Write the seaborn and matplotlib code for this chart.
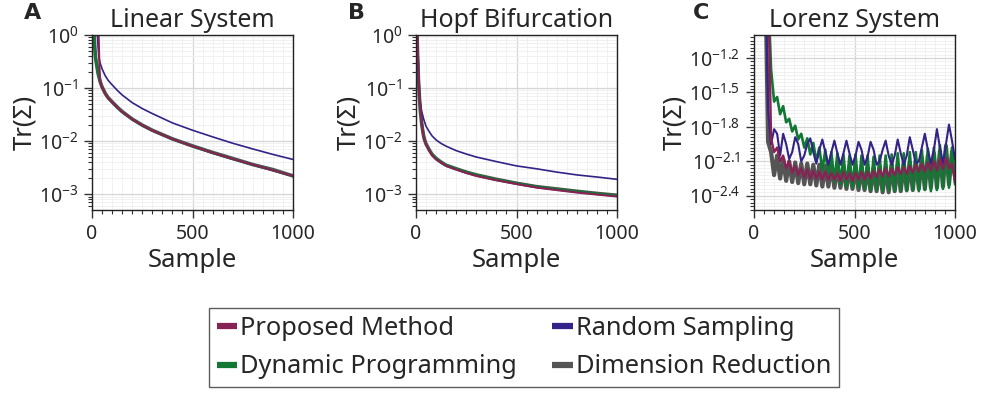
import numpy as np
import pandas as pd
import matplotlib
matplotlib.use("Agg")
import matplotlib.pyplot as plt
import seaborn as sns
from matplotlib.ticker import FixedLocator, FixedFormatter, MultipleLocator, LogLocator, NullFormatter
from matplotlib.lines import Line2D

# --- data ---
# panels A/B: sample index grid and Tr(Sigma) values
x_ab = [4, 8, 12, 17, 21, 25, 29, 33, 37, 41, 50, 66, 80, 100, 125, 150,
        200, 250, 300, 400, 500, 600, 700, 800, 900, 1000]

lin_dimred = [3.0, 1.3, 0.75, 0.40, 0.31, 0.25, 0.20, 0.17, 0.15, 0.13, 0.105, 0.079, 0.066,
              0.055, 0.044, 0.036, 0.026, 0.020, 0.016, 0.011, 0.0081, 0.0061, 0.0047,
              0.0036, 0.0029, 0.0022]
lin_dynprog = [2.8, 1.25, 0.72, 0.39, 0.30, 0.245, 0.198, 0.168, 0.145, 0.128, 0.104, 0.078,
               0.065, 0.054, 0.0435, 0.0355, 0.0258, 0.0198, 0.0158, 0.0109, 0.0080, 0.0060,
               0.0046, 0.0036, 0.0028, 0.0022]
lin_proposed = [8.0, 6.0, 4.0, 3.2, 2.8, 2.5, 2.0, 1.0, 0.25, 0.132, 0.104, 0.078, 0.065,
                0.054, 0.0435, 0.0355, 0.0258, 0.0198, 0.0158, 0.0109, 0.0080, 0.0060,
                0.0046, 0.0036, 0.0028, 0.0022]
lin_random = [12.0, 8.0, 5.0, 3.0, 1.9, 1.2, 0.7, 0.42, 0.34, 0.29, 0.23, 0.17, 0.14, 0.115,
              0.091, 0.074, 0.053, 0.041, 0.033, 0.022, 0.016, 0.012, 0.0091, 0.0071,
              0.0056, 0.0045]

hopf_dimred = [1.5, 0.4, 0.15, 0.065, 0.040, 0.028, 0.020, 0.016, 0.013, 0.011, 0.0088,
               0.0068, 0.0056, 0.0047, 0.0040, 0.0035, 0.0030, 0.0026, 0.0023, 0.0019,
               0.0016, 0.00138, 0.00125, 0.00113, 0.00103, 0.00095]
hopf_dynprog = [1.8, 0.5, 0.17, 0.075, 0.045, 0.030, 0.022, 0.017, 0.0135, 0.0113, 0.0089,
                0.0068, 0.0056, 0.0047, 0.0040, 0.0035, 0.0030, 0.0026, 0.0023, 0.00188,
                0.0016, 0.00138, 0.00124, 0.00112, 0.00102, 0.00094]
hopf_proposed = [3.0, 0.7, 0.22, 0.08, 0.047, 0.031, 0.022, 0.0165, 0.0132, 0.0110, 0.0086,
                 0.0066, 0.0054, 0.0045, 0.0039, 0.0034, 0.0029, 0.0025, 0.0022, 0.00182,
                 0.00155, 0.00133, 0.00119, 0.00107, 0.00098, 0.00090]
hopf_random = [1.8, 0.5, 0.16, 0.075, 0.052, 0.042, 0.035, 0.031, 0.027, 0.024, 0.019, 0.015,
               0.0125, 0.0105, 0.0090, 0.0080, 0.0066, 0.0057, 0.0050, 0.0041, 0.0034,
               0.0030, 0.0026, 0.0023, 0.0021, 0.0019]

# panel C: samples every 15 from 55 to 1000, values given as log10 Tr(Sigma)
x_lorenz = np.arange(55, 1001, 15)

lor_log_dimred = [
    -0.30, -1.93, -2.02, -2.22, -2.05, -2.25, -2.08, -2.27,
    -2.10, -2.28, -2.11, -2.29, -2.12, -2.30, -2.12, -2.30,
    -2.13, -2.31, -2.13, -2.32, -2.14, -2.32, -2.14, -2.33,
    -2.14, -2.33, -2.15, -2.34, -2.15, -2.34, -2.16, -2.35,
    -2.16, -2.35, -2.16, -2.36, -2.16, -2.36, -2.15, -2.37,
    -2.15, -2.37, -2.14, -2.36, -2.13, -2.36, -2.12, -2.35,
    -2.11, -2.35, -2.09, -2.34, -2.07, -2.34, -2.05, -2.33,
    -2.03, -2.33, -2.01, -2.32, -1.97, -2.30, -2.02, -2.22]
lor_log_dynprog = [
    -0.30, -0.60, -1.30, -1.58, -1.54, -1.69, -1.62, -1.76,
    -1.73, -1.84, -1.79, -1.91, -1.86, -1.98, -1.90, -2.04,
    -1.94, -2.10, -1.98, -2.18, -2.00, -2.24, -2.02, -2.28,
    -2.03, -2.30, -2.04, -2.32, -2.05, -2.33, -2.04, -2.33,
    -2.05, -2.34, -2.05, -2.35, -2.06, -2.35, -2.05, -2.36,
    -2.05, -2.35, -2.04, -2.36, -2.03, -2.35, -2.03, -2.36,
    -2.02, -2.35, -2.02, -2.36, -2.00, -2.35, -1.99, -2.36,
    -1.98, -2.35, -1.96, -2.34, -1.95, -2.33, -1.98, -2.30]
lor_log_random = [
    -0.30, -1.65, -1.95, -1.82, -1.86, -2.05, -1.86, -1.95,
    -2.08, -2.02, -1.89, -1.95, -2.10, -2.05, -1.95, -1.90,
    -2.02, -2.12, -2.00, -1.91, -2.02, -2.13, -2.02, -1.92,
    -2.03, -2.13, -2.03, -1.92, -2.03, -2.13, -2.05, -1.93,
    -2.00, -2.13, -2.06, -1.93, -2.00, -2.13, -2.10, -2.00,
    -1.92, -2.05, -2.13, -2.05, -1.91, -2.03, -2.13, -2.05,
    -1.89, -2.00, -2.12, -2.10, -1.98, -1.86, -2.00, -2.12,
    -2.00, -1.82, -1.98, -2.12, -1.95, -1.78, -1.92, -2.08]
lor_log_proposed = [
    0.20, -0.50, -1.90, -2.02, -1.98, -2.10, -2.05, -2.16,
    -2.10, -2.20, -2.14, -2.22, -2.16, -2.24, -2.17, -2.25,
    -2.18, -2.25, -2.19, -2.26, -2.19, -2.26, -2.20, -2.26,
    -2.20, -2.27, -2.19, -2.26, -2.20, -2.27, -2.20, -2.26,
    -2.19, -2.26, -2.19, -2.25, -2.18, -2.24, -2.17, -2.23,
    -2.16, -2.23, -2.16, -2.22, -2.15, -2.21, -2.15, -2.21,
    -2.14, -2.20, -2.13, -2.19, -2.12, -2.19, -2.11, -2.18,
    -2.10, -2.18, -2.08, -2.17, -2.07, -2.16, -2.12, -2.28]

# draw order: bottom -> top
methods = ["Dimension Reduction", "Dynamic Programming", "Random Sampling", "Proposed Method"]
colors = {"Proposed Method": "#882255", "Random Sampling": "#332288",
          "Dynamic Programming": "#117733", "Dimension Reduction": "#555555"}
lw_ab = {"Dimension Reduction": 2.6, "Dynamic Programming": 1.8,
         "Random Sampling": 1.2, "Proposed Method": 1.5}
lw_c = {"Dimension Reduction": 3.0, "Dynamic Programming": 1.9,
        "Random Sampling": 1.5, "Proposed Method": 1.7}

panels = [
    ("Linear System", "A", x_ab, {"Dimension Reduction": lin_dimred, "Dynamic Programming": lin_dynprog,
                                  "Random Sampling": lin_random, "Proposed Method": lin_proposed}),
    ("Hopf Bifurcation", "B", x_ab, {"Dimension Reduction": hopf_dimred, "Dynamic Programming": hopf_dynprog,
                                     "Random Sampling": hopf_random, "Proposed Method": hopf_proposed}),
    ("Lorenz System", "C", x_lorenz, {"Dimension Reduction": 10 ** np.array(lor_log_dimred),
                                      "Dynamic Programming": 10 ** np.array(lor_log_dynprog),
                                      "Random Sampling": 10 ** np.array(lor_log_random),
                                      "Proposed Method": 10 ** np.array(lor_log_proposed)}),
]

sns.set_style("white")
plt.rcParams['font.family'] = ['Noto Sans', 'DejaVu Sans']
plt.rcParams['mathtext.fontset'] = 'custom'
plt.rcParams['mathtext.rm'] = 'Noto Sans'
plt.rcParams['mathtext.it'] = 'Noto Sans:italic'
plt.rcParams['mathtext.bf'] = 'Noto Sans:bold'

fig = plt.figure(figsize=(9.82, 3.93), dpi=100)
lefts = [92, 416, 754]
letter_x = [33, 357, 701]
W, H = 982, 393

for i, (title, letter, xs, series) in enumerate(panels):
    ax = fig.add_axes([lefts[i] / W, 1 - 210 / H, 201 / W, 175 / H])
    lws = lw_c if letter == "C" else lw_ab
    for m in methods:
        df = pd.DataFrame({"Sample": xs, "Tr": series[m]})
        sns.lineplot(data=df, x="Sample", y="Tr", color=colors[m], lw=lws[m],
                     ax=ax, legend=False, solid_joinstyle="round")
    ax.set_yscale("log")
    ax.set_xlim(0, 1000)
    ax.xaxis.set_major_locator(FixedLocator([0, 500, 1000]))
    ax.xaxis.set_minor_locator(MultipleLocator(50))
    if letter == "C":
        ax.set_ylim(10 ** -2.524, 10 ** -1.0)
        exps = ["-2.4", "-2.1", "-1.8", "-1.5", "-1.2"]
        ax.yaxis.set_major_locator(FixedLocator([10 ** float(e) for e in exps]))
        ax.yaxis.set_major_formatter(FixedFormatter([r"$10^{%s}$" % e for e in exps]))
        ax.yaxis.set_minor_locator(FixedLocator(10 ** np.arange(-2.55, -0.97, 0.03)))
    else:
        ax.set_ylim(10 ** -3.3, 1.0)
        ax.yaxis.set_major_locator(FixedLocator([1e-3, 1e-2, 1e-1, 1.0]))
        ax.yaxis.set_major_formatter(FixedFormatter([r"$10^{-3}$", r"$10^{-2}$", r"$10^{-1}$", r"$10^{0}$"]))
        ax.yaxis.set_minor_locator(LogLocator(base=10, subs=np.arange(2, 10), numticks=20))
    ax.yaxis.set_minor_formatter(NullFormatter())

    ax.set_axisbelow(True)
    ax.grid(which="major", color="#d6d6d6", lw=0.9)
    ax.grid(which="minor", color="#efefef", lw=0.6)
    for s in ax.spines.values():
        s.set_visible(True)
        s.set_color("#222222")
        s.set_linewidth(1.0)
    ax.tick_params(which="major", direction="out", length=6, width=1, color="#333333",
                   labelsize=14, left=True, bottom=True, pad=4)
    ax.tick_params(which="minor", direction="out", length=3, width=0.8, color="#333333",
                   left=True, bottom=True)

    ax.set_title(title, fontsize=18, pad=6)
    ax.set_xlabel("Sample", fontsize=18.5, labelpad=3)
    ax.set_ylabel("Tr(Σ)", fontsize=18.5, labelpad=1)
    fig.text(letter_x[i] / W, 1 - 13 / H, letter, fontsize=16, fontweight="bold",
             family="DejaVu Sans", ha="center", va="center")

handles = [Line2D([], [], color=colors[m], lw=4.5, solid_capstyle="butt")
           for m in ["Proposed Method", "Dynamic Programming", "Random Sampling", "Dimension Reduction"]]
labels = ["Proposed Method", "Dynamic Programming", "Random Sampling", "Dimension Reduction"]
leg = fig.legend(handles, labels, ncol=2, loc="center", bbox_to_anchor=(524 / W, 1 - 347.5 / H),
                 frameon=True, fancybox=False, fontsize=18.3, handlelength=0.8, handletextpad=0.12,
                 columnspacing=1.4, labelspacing=0.55, borderpad=0.3, borderaxespad=0,
                 edgecolor="#333333")
leg.get_frame().set_linewidth(1.0)

fig.savefig("out.png", dpi=100)
